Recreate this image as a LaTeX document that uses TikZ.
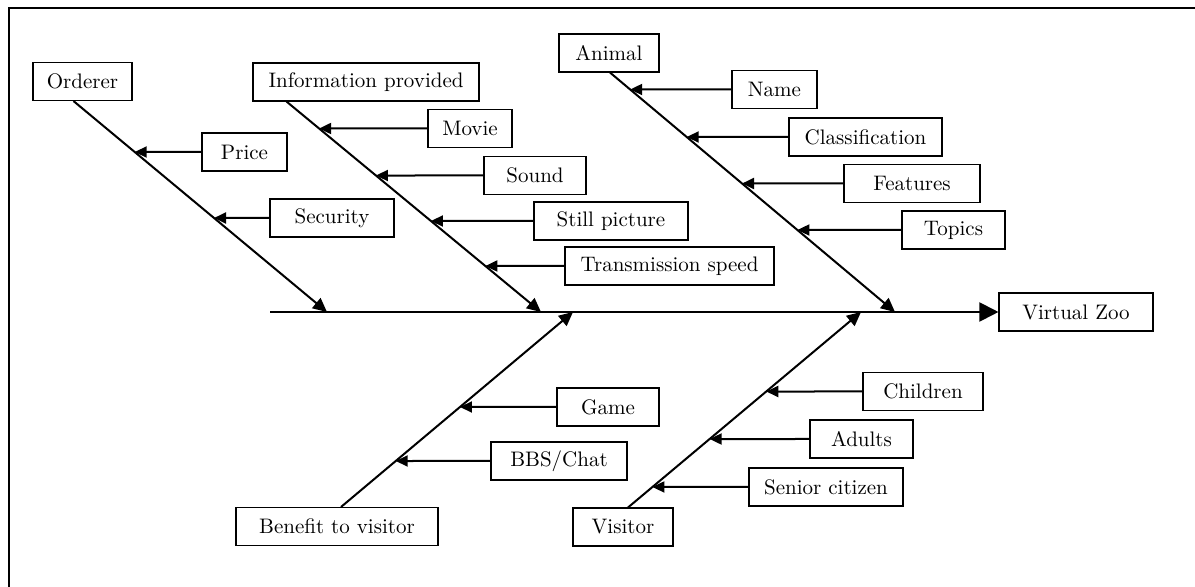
\documentclass[tikz,border=0pt]{standalone}
\usetikzlibrary{arrows.meta,calc}
\begin{document}
\begin{tikzpicture}[x=0.5pt,y=-0.5pt,
  box/.style={draw,line width=0.55pt,inner xsep=4pt,inner ysep=0pt,minimum height=19pt,font=\fontsize{10.5}{12}\selectfont},
  bone/.style={line width=1pt,-{Triangle[length=7pt,width=6.5pt]}},
  twig/.style={line width=1pt,-{Triangle[length=6pt,width=5.5pt]}}]
\useasboundingbox (0,0) rectangle (1195,587);
\draw[line width=1.2pt] (9,587)--(9,8)--(1195,8);
% head and spine
\node[box,minimum width=77pt] (zoo) at (1076,312) {Virtual Zoo};
\coordinate (tail) at (270,312);
\draw[line width=1pt,-{Triangle[length=9.5pt,width=9.5pt]}] (tail)--(zoo.west);
% main bones
\node[box,minimum width=49.5pt] (ord) at (82.5,81.5) {Orderer};
\node[box,minimum width=113pt] (info) at (366,82) {Information provided};
\node[box,minimum width=50pt] (ani) at (609,53) {Animal};
\node[box,minimum width=101pt] (ben) at (337,526.5) {Benefit to visitor};
\node[box,minimum width=50pt] (vis) at (623,527) {Visitor};
\coordinate (ord0) at ($(ord.south west)!0.41!(ord.south east)$);
\coordinate (info0) at ($(info.south west)!0.15!(info.south east)$);
\coordinate (ani0) at ($(ani.south west)!0.51!(ani.south east)$);
\coordinate (ben0) at ($(ben.north west)!0.52!(ben.north east)$);
\coordinate (vis0) at ($(vis.north west)!0.55!(vis.north east)$);
\coordinate (ord1) at (327,312);
\coordinate (info1) at (541,312);
\coordinate (ani1) at (895,312);
\coordinate (ben1) at (573,312);
\coordinate (vis1) at (861,312);
\draw[bone] (ord0)--(ord1);
\draw[bone] (info0)--(info1);
\draw[bone] (ani0)--(ani1);
\draw[bone] (ben0)--(ben1);
\draw[bone] (vis0)--(vis1);
% Orderer
\node[box,minimum width=42.5pt] (price) at (244.5,152) {Price};
\node[box,minimum width=62pt] (sec) at (332,218) {Security};
\draw[twig] (price.west)--(intersection cs: first line={(ord0)--(ord1)}, second line={(price.west)--(ord0|-price.west)});
\draw[twig] (sec.west)--(intersection cs: first line={(ord0)--(ord1)}, second line={(sec.west)--(ord0|-sec.west)});
% Information provided
\node[box,minimum width=42pt] (movie) at (470,128.5) {Movie};
\node[box,minimum width=51pt] (sound) at (535,175.5) {Sound};
\node[box,minimum width=77pt] (still) at (611,221) {Still picture};
\node[box,minimum width=104.5pt] (speed) at (669.5,266) {Transmission speed};
\foreach \n in {movie,sound,still,speed}
  \draw[twig] (\n.west)--(intersection cs: first line={(info0)--(info1)}, second line={(\n.west)--(info0|-\n.west)});
% Animal
\node[box,minimum width=42.5pt] (name) at (774.5,89.5) {Name};
\node[box,minimum width=76.5pt] (class) at (865.5,137) {Classification};
\node[box,minimum width=68pt] (feat) at (912,183.5) {Features};
\node[box,minimum width=51.5pt] (topic) at (953.5,230) {Topics};
\foreach \n in {name,class,feat,topic}
  \draw[twig] (\n.west)--(intersection cs: first line={(ani0)--(ani1)}, second line={(\n.west)--(ani0|-\n.west)});
% Benefit to visitor
\node[box,minimum width=51pt] (game) at (608,407) {Game};
\node[box,minimum width=68pt] (bbs) at (559,461) {BBS/Chat};
\foreach \n in {game,bbs}
  \draw[twig] (\n.west)--(intersection cs: first line={(ben0)--(ben1)}, second line={(\n.west)--(ben0|-\n.west)});
% Visitor
\node[box,minimum width=60pt] (child) at (923,391.5) {Children};
\node[box,minimum width=51.5pt] (adult) at (861.5,439) {Adults};
\node[box,minimum width=77pt] (senior) at (826,487) {Senior citizen};
\foreach \n in {child,adult,senior}
  \draw[twig] (\n.west)--(intersection cs: first line={(vis0)--(vis1)}, second line={(\n.west)--(vis0|-\n.west)});
\end{tikzpicture}
\end{document}
